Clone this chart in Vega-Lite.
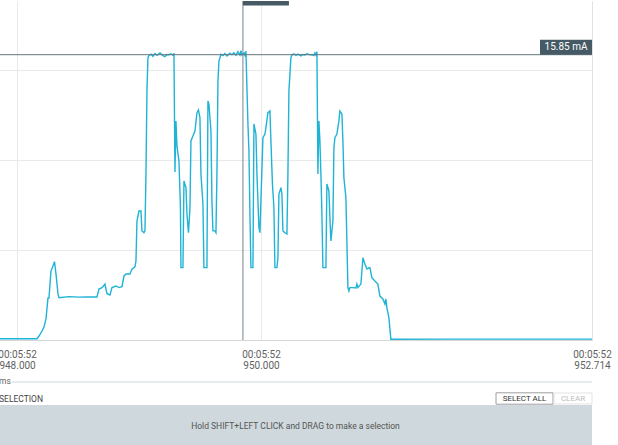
{
  "$schema": "https://vega.github.io/schema/vega-lite/v6.json",
  "padding": {"left": -4, "top": 0, "right": 0, "bottom": 0},
  "autosize": {"type": "pad"},
  "background": "white",
  "config": {"font": "Roboto", "view": {"stroke": null}},
  "bounds": "flush",
  "spacing": 65,
  "datasets": {
    "crosshair": [{"t": 949.852, "i": 15.85, "tLabel": "949.852", "iLabel": "15.85 mA"}],
    "buttons": [{"label": "SELECT ALL", "t": 952.1606}, {"label": "CLEAR", "t": 952.5582}],
    "current": [
      {"t": 947.852, "i": 0.07}, {"t": 948.1635, "i": 0.07}, {"t": 948.1799, "i": 0.22}, {"t": 948.2045, "i": 0.5},
      {"t": 948.2209, "i": 0.72}, {"t": 948.2372, "i": 1.17}, {"t": 948.2536, "i": 2.33}, {"t": 948.2618, "i": 2.33},
      {"t": 948.2782, "i": 3.83}, {"t": 948.2946, "i": 4.11}, {"t": 948.3069, "i": 4.35}, {"t": 948.3192, "i": 3.67},
      {"t": 948.3356, "i": 2.56}, {"t": 948.3438, "i": 2.35}, {"t": 948.4258, "i": 2.41}, {"t": 948.5077, "i": 2.38},
      {"t": 948.5733, "i": 2.39}, {"t": 948.6553, "i": 2.39}, {"t": 948.6717, "i": 2.83}, {"t": 948.6963, "i": 2.91},
      {"t": 948.7209, "i": 3.11}, {"t": 948.7372, "i": 2.57}, {"t": 948.7618, "i": 2.5}, {"t": 948.7782, "i": 2.91},
      {"t": 948.811, "i": 3.0}, {"t": 948.8356, "i": 2.91}, {"t": 948.8602, "i": 2.96}, {"t": 948.8766, "i": 3.56},
      {"t": 948.893, "i": 3.67}, {"t": 948.9258, "i": 3.67}, {"t": 948.9422, "i": 3.94}, {"t": 948.9668, "i": 4.06},
      {"t": 948.975, "i": 4.39}, {"t": 948.9831, "i": 6.61}, {"t": 948.9995, "i": 7.17}, {"t": 949.0159, "i": 7.17},
      {"t": 949.0241, "i": 6.06}, {"t": 949.0405, "i": 5.96}, {"t": 949.0487, "i": 6.06}, {"t": 949.0569, "i": 9.22},
      {"t": 949.0651, "i": 13.83}, {"t": 949.0733, "i": 15.68}, {"t": 949.0815, "i": 15.8}, {"t": 949.0979, "i": 15.88},
      {"t": 949.1143, "i": 15.76}, {"t": 949.1307, "i": 15.92}, {"t": 949.1471, "i": 15.82}, {"t": 949.1717, "i": 15.95},
      {"t": 949.1963, "i": 15.8}, {"t": 949.2127, "i": 15.74}, {"t": 949.2291, "i": 15.86}, {"t": 949.2454, "i": 15.84},
      {"t": 949.2618, "i": 15.9}, {"t": 949.2782, "i": 15.82}, {"t": 949.2864, "i": 15.93}, {"t": 949.2946, "i": 9.33},
      {"t": 949.3028, "i": 12.17}, {"t": 949.311, "i": 10.78}, {"t": 949.3274, "i": 9.94}, {"t": 949.3397, "i": 7.35},
      {"t": 949.3438, "i": 4.02}, {"t": 949.3602, "i": 4.02}, {"t": 949.3684, "i": 8.83}, {"t": 949.3848, "i": 8.46},
      {"t": 949.393, "i": 7.0}, {"t": 949.4053, "i": 5.96}, {"t": 949.4176, "i": 7.35}, {"t": 949.4258, "i": 11.06},
      {"t": 949.4422, "i": 11.33}, {"t": 949.4586, "i": 11.61}, {"t": 949.475, "i": 12.63}, {"t": 949.4872, "i": 12.78},
      {"t": 949.4995, "i": 12.35}, {"t": 949.5077, "i": 9.22}, {"t": 949.5241, "i": 7.56}, {"t": 949.5323, "i": 4.02},
      {"t": 949.5569, "i": 4.02}, {"t": 949.5651, "i": 13.28}, {"t": 949.5733, "i": 13.11}, {"t": 949.5897, "i": 11.61},
      {"t": 949.5979, "i": 7.72}, {"t": 949.6061, "i": 6.06}, {"t": 949.6225, "i": 6.06}, {"t": 949.6307, "i": 5.96},
      {"t": 949.6389, "i": 9.22}, {"t": 949.6471, "i": 14.39}, {"t": 949.6553, "i": 15.5}, {"t": 949.6717, "i": 15.87},
      {"t": 949.6881, "i": 15.8}, {"t": 949.7045, "i": 15.91}, {"t": 949.7209, "i": 15.78}, {"t": 949.7454, "i": 15.93},
      {"t": 949.7618, "i": 15.85}, {"t": 949.7782, "i": 15.96}, {"t": 949.7946, "i": 15.82}, {"t": 949.811, "i": 16.02},
      {"t": 949.8274, "i": 15.83}, {"t": 949.8356, "i": 16.08}, {"t": 949.8438, "i": 15.84}, {"t": 949.8602, "i": 15.95},
      {"t": 949.8684, "i": 15.82}, {"t": 949.8766, "i": 16.05}, {"t": 949.893, "i": 12.0}, {"t": 949.9012, "i": 10.5},
      {"t": 949.9094, "i": 7.0}, {"t": 949.9176, "i": 4.02}, {"t": 949.934, "i": 4.02}, {"t": 949.9422, "i": 12.0},
      {"t": 949.9586, "i": 11.44}, {"t": 949.9668, "i": 9.22}, {"t": 949.9831, "i": 6.24}, {"t": 949.9913, "i": 5.96},
      {"t": 949.9995, "i": 7.72}, {"t": 950.0159, "i": 11.24}, {"t": 950.0323, "i": 11.44}, {"t": 950.0405, "i": 11.79},
      {"t": 950.0569, "i": 12.63}, {"t": 950.0733, "i": 12.72}, {"t": 950.0815, "i": 11.06}, {"t": 950.0938, "i": 8.67},
      {"t": 950.1061, "i": 7.35}, {"t": 950.1143, "i": 4.02}, {"t": 950.1307, "i": 4.02}, {"t": 950.1389, "i": 4.57},
      {"t": 950.1471, "i": 8.11}, {"t": 950.1635, "i": 8.46}, {"t": 950.1717, "i": 8.11}, {"t": 950.1799, "i": 6.06},
      {"t": 950.1963, "i": 5.96}, {"t": 950.2127, "i": 5.89}, {"t": 950.2209, "i": 9.22}, {"t": 950.229, "i": 13.83},
      {"t": 950.2454, "i": 15.68}, {"t": 950.2536, "i": 15.83}, {"t": 950.27, "i": 15.9}, {"t": 950.2864, "i": 15.81},
      {"t": 950.3028, "i": 15.88}, {"t": 950.3274, "i": 15.78}, {"t": 950.3438, "i": 15.86}, {"t": 950.3602, "i": 15.83},
      {"t": 950.3766, "i": 15.9}, {"t": 950.4012, "i": 15.84}, {"t": 950.4176, "i": 15.86}, {"t": 950.434, "i": 15.8},
      {"t": 950.4422, "i": 15.95}, {"t": 950.4504, "i": 15.84}, {"t": 950.4586, "i": 16.02}, {"t": 950.4668, "i": 9.22},
      {"t": 950.475, "i": 12.17}, {"t": 950.4831, "i": 11.06}, {"t": 950.4913, "i": 9.22}, {"t": 950.4995, "i": 7.0},
      {"t": 950.5077, "i": 4.02}, {"t": 950.5323, "i": 4.02}, {"t": 950.5405, "i": 8.67}, {"t": 950.5569, "i": 8.28},
      {"t": 950.5651, "i": 6.79}, {"t": 950.5733, "i": 5.5}, {"t": 950.5897, "i": 6.61}, {"t": 950.5979, "i": 10.68},
      {"t": 950.6061, "i": 11.24}, {"t": 950.6225, "i": 11.44}, {"t": 950.6389, "i": 12.17}, {"t": 950.6471, "i": 12.72},
      {"t": 950.6635, "i": 12.56}, {"t": 950.6717, "i": 11.06}, {"t": 950.6799, "i": 9.02}, {"t": 950.6963, "i": 7.91},
      {"t": 950.7127, "i": 2.91}, {"t": 950.7209, "i": 2.72}, {"t": 950.729, "i": 2.91}, {"t": 950.7536, "i": 2.91},
      {"t": 950.7782, "i": 2.89}, {"t": 950.7864, "i": 3.11}, {"t": 950.7946, "i": 2.91}, {"t": 950.8192, "i": 3.11},
      {"t": 950.8356, "i": 4.57}, {"t": 950.852, "i": 4.22}, {"t": 950.8684, "i": 3.94}, {"t": 950.8848, "i": 4.0},
      {"t": 950.893, "i": 4.02}, {"t": 950.9094, "i": 3.46}, {"t": 950.934, "i": 3.28}, {"t": 950.9586, "i": 3.11},
      {"t": 950.975, "i": 2.44}, {"t": 950.9995, "i": 2.28}, {"t": 951.0159, "i": 2.0}, {"t": 951.0241, "i": 2.28},
      {"t": 951.0323, "i": 1.79}, {"t": 951.0487, "i": 1.24}, {"t": 951.0651, "i": 0.04}, {"t": 951.5405, "i": 0.05},
      {"t": 952.1143, "i": 0.05}, {"t": 952.714, "i": 0.05}
    ]
  },
  "vconcat": [
    {
      "width": 593,
      "height": 339,
      "layer": [
        {
          "data": {"name": "current"},
          "mark": {"type": "line", "color": "#1fb3d5", "strokeWidth": 1.4},
          "encoding": {
            "x": {
              "field": "t", "type": "quantitative",
              "scale": {"domain": [947.852, 952.714], "nice": false, "zero": false},
              "axis": {
                "values": [948, 950, 952.714],
                "labelExpr": "['00:05:52', format(datum.value, '.3f')]",
                "labelFontSize": 10, "labelColor": "#5f5f5f", "labelLineHeight": 11,
                "labelPadding": 9, "labelOverlap": false, "labelBound": false, "labelFlush": false,
                "ticks": false, "domainColor": "#d6d6d6", "gridColor": "#e9e9e9", "title": null
              }
            },
            "y": {
              "field": "i", "type": "quantitative",
              "scale": {"domain": [0, 18.833], "nice": false},
              "axis": {
                "orient": "right", "values": [0, 5, 10, 15], "labels": false, "ticks": false,
                "domain": true, "domainColor": "#e2e2e2", "gridColor": "#e9e9e9", "title": null
              }
            }
          }
        },
        {
          "data": {"name": "crosshair"},
          "mark": {"type": "rule", "color": "#75858e", "strokeWidth": 1},
          "encoding": {"x": {"field": "t", "type": "quantitative"}}
        },
        {
          "data": {"name": "crosshair"},
          "mark": {"type": "rule", "color": "#66757d", "strokeWidth": 1},
          "encoding": {"y": {"field": "i", "type": "quantitative"}}
        },
        {
          "data": {"name": "crosshair"},
          "mark": {"type": "rect", "color": "#455a64", "width": 52, "height": 15, "xOffset": -26, "yOffset": -7.5},
          "encoding": {
            "x": {"datum": 952.714, "type": "quantitative"},
            "y": {"field": "i", "type": "quantitative"}
          }
        },
        {
          "data": {"name": "crosshair"},
          "mark": {"type": "text", "color": "white", "fontSize": 10, "xOffset": -26, "yOffset": -7.5, "align": "center", "baseline": "middle"},
          "encoding": {
            "x": {"datum": 952.714, "type": "quantitative"},
            "y": {"field": "i", "type": "quantitative"},
            "text": {"field": "iLabel"}
          }
        },
        {
          "data": {"name": "crosshair"},
          "mark": {"type": "rect", "color": "#455a64", "width": 46, "height": 17, "xOffset": 23, "clip": true},
          "encoding": {
            "x": {"field": "t", "type": "quantitative"},
            "y": {"datum": 19.05, "type": "quantitative"}
          }
        },
        {
          "data": {"name": "crosshair"},
          "mark": {"type": "text", "color": "white", "fontSize": 10, "xOffset": 23, "dy": 1, "align": "center", "baseline": "middle", "clip": true},
          "encoding": {
            "x": {"field": "t", "type": "quantitative"},
            "y": {"datum": 19.05, "type": "quantitative"},
            "text": {"field": "tLabel"}
          }
        }
      ]
    },
    {
      "width": 593,
      "height": 41,
      "view": {"fill": "#cfd8dc", "stroke": null},
      "layer": [
        {
          "data": {"values": [{"hint": "Hold SHIFT+LEFT CLICK and DRAG to make a selection"}]},
          "mark": {"type": "text", "fontSize": 8.5, "color": "#555555"},
          "encoding": {"text": {"field": "hint"}}
        },
        {
          "data": {"name": "buttons"},
          "transform": [{"filter": "datum.label == 'SELECT ALL'"}],
          "mark": {"type": "point", "shape": "M-1,-0.2L1,-0.2L1,0.2L-1,0.2Z", "size": 3249, "filled": false, "fill": "white", "fillOpacity": 1, "stroke": "#9e9e9e", "strokeWidth": 1, "opacity": 1, "yOffset": -27},
          "encoding": {
            "x": {"field": "t", "type": "quantitative", "scale": {"domain": [947.852, 952.714], "nice": false, "zero": false}, "axis": null}
          }
        },
        {
          "data": {"name": "buttons"},
          "transform": [{"filter": "datum.label == 'CLEAR'"}],
          "mark": {"type": "point", "shape": "M-1,-0.29L1,-0.29L1,0.29L-1,0.29Z", "size": 1444, "filled": false, "fill": "white", "fillOpacity": 1, "stroke": "#e3e3e3", "strokeWidth": 1, "opacity": 1, "yOffset": -27},
          "encoding": {"x": {"field": "t", "type": "quantitative"}}
        },
        {
          "data": {"name": "buttons"},
          "mark": {"type": "text", "fontSize": 8, "yOffset": -27, "baseline": "middle"},
          "encoding": {
            "x": {"field": "t", "type": "quantitative"},
            "text": {"field": "label"},
            "color": {"field": "label", "type": "nominal", "scale": {"domain": ["SELECT ALL", "CLEAR"], "range": ["#333333", "#bbbbbb"]}, "legend": null}
          }
        },
        {
          "data": {"values": [{"label": "SELECTION"}]},
          "mark": {"type": "text", "fontSize": 8.5, "color": "#444444", "align": "left", "baseline": "middle", "yOffset": -26.5},
          "encoding": {"x": {"datum": 947.852, "type": "quantitative"}, "text": {"field": "label"}}
        },
        {
          "data": {"values": [{"label": "ms"}]},
          "mark": {"type": "text", "fontSize": 8.5, "color": "#666666", "align": "left", "baseline": "middle", "yOffset": -45},
          "encoding": {"x": {"datum": 947.852, "type": "quantitative"}, "text": {"field": "label"}}
        },
        {
          "data": {"values": [{"label": "ms"}]},
          "mark": {"type": "rule", "color": "#cfd8dc", "strokeWidth": 1, "yOffset": -43.5},
          "encoding": {"x": {"datum": 947.96, "type": "quantitative"}, "x2": {"datum": 952.714}}
        }
      ]
    }
  ]
}
